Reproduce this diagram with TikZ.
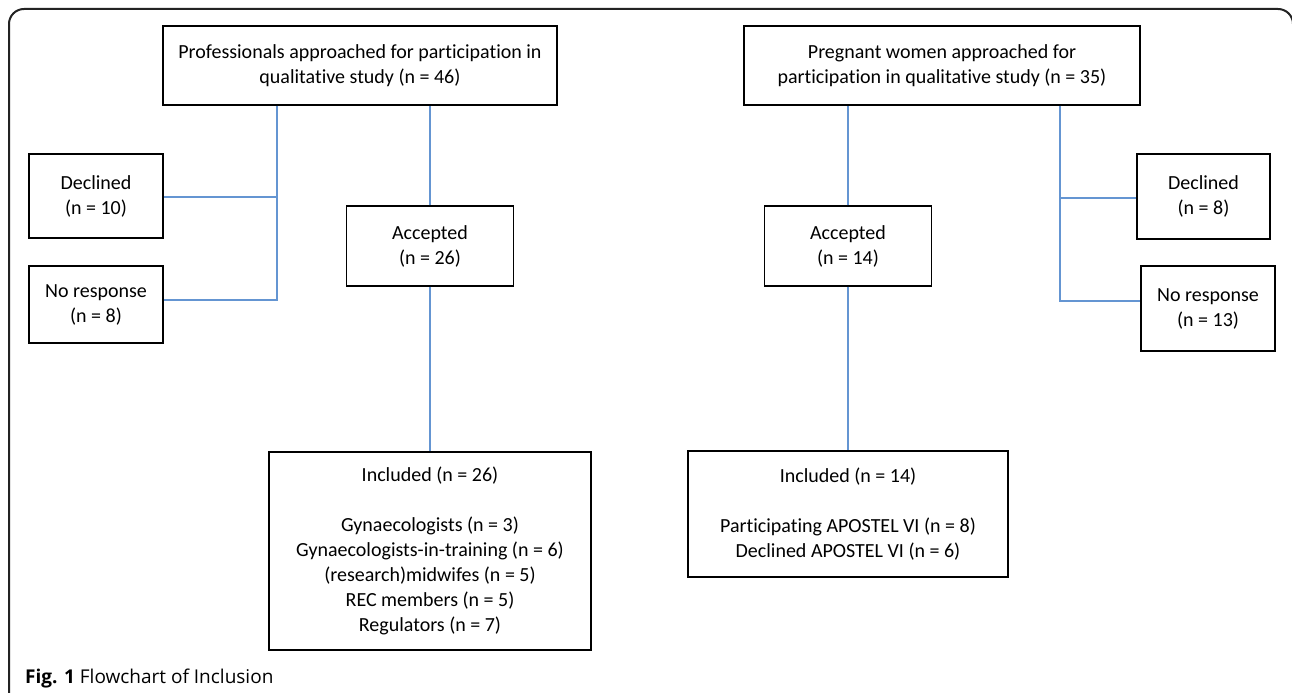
\documentclass[tikz,border=0pt]{standalone}
\usepackage{fontspec}
\setmainfont{Carlito}[Ligatures={NoCommon}]
\newfontfamily\capfont{Open Sans}
\definecolor{linkblue}{RGB}{100,149,210}
\definecolor{framegray}{RGB}{35,35,35}
\begin{document}
\begin{tikzpicture}[x=1bp,y=-1bp,
  box/.style={draw=black,line width=1.2bp,align=center,inner sep=0pt,
    font=\fontsize{20bp}{25bp}\selectfont},
  link/.style={draw=linkblue,line width=1.3bp}]
\useasboundingbox (0,0) rectangle (1292,693);
\draw[framegray,line width=2bp,rounded corners=15bp] (9,700) -- (9,9) -- (1293,9) -- (1293,700);
% left column
\node[box,minimum width=394bp,minimum height=79bp] (profTop) at (360,65.5) {Professionals approached for participation in\\qualitative study (n = 46)};
\node[box,minimum width=134bp,minimum height=84bp] (declL) at (96,196) {Declined\\(n = 10)};
\node[box,minimum width=134bp,minimum height=77bp] (nrL) at (96,304.5) {No response\\(n = 8)};
\node[box,minimum width=167bp,minimum height=80bp] (accL) at (430,246) {Accepted\\(n = 26)};
\node[box,minimum width=322bp,minimum height=198bp] (incL) at (430,551) {Included (n = 26)\\[25bp]Gynaecologists (n = 3)\\Gynaecologists-in-training (n = 6)\\(research)midwifes (n = 5)\\REC members (n = 5)\\Regulators (n = 7)};
% right column
\node[box,minimum width=396bp,minimum height=79bp] (pregTop) at (942,65.5) {Pregnant women approached for\\participation in qualitative study (n = 35)};
\node[box,minimum width=167bp,minimum height=80bp] (accR) at (848,246) {Accepted\\(n = 14)};
\node[box,minimum width=320bp,minimum height=126bp] (incR) at (848,514) {Included (n = 14)\\[25bp]Participating APOSTEL VI (n = 8)\\Declined APOSTEL VI (n = 6)};
\node[box,minimum width=133bp,minimum height=85bp] (declR) at (1203.5,196.5) {Declined\\(n = 8)};
\node[box,minimum width=134bp,minimum height=85bp] (nrR) at (1208,308.5) {No response\\(n = 13)};
% junctions
\coordinate (jL1) at (277,197);
\coordinate (jL2) at (277,300);
\coordinate (jR1) at (1060,198);
\coordinate (jR2) at (1060,301);
% connectors
\draw[link] (accL.north) -- (accL.north |- profTop.south);
\draw[link] (accL.south) -- (accL.south |- incL.north);
\draw[link] (profTop.south -| jL2) -- (jL2) -- (nrL.east |- jL2);
\draw[link] (jL1) -- (declL.east |- jL1);
\draw[link] (accR.north) -- (accR.north |- pregTop.south);
\draw[link] (accR.south) -- (accR.south |- incR.north);
\draw[link] (pregTop.south -| jR2) -- (jR2) -- (nrR.west |- jR2);
\draw[link] (jR1) -- (declR.west |- jR1);
% caption
\node[anchor=base west,inner sep=0pt,font=\capfont\fontsize{19bp}{23bp}\selectfont] (cap) at (25,683) {\textbf{Fig. 1} Flowchart of Inclusion};
\end{tikzpicture}
\end{document}
